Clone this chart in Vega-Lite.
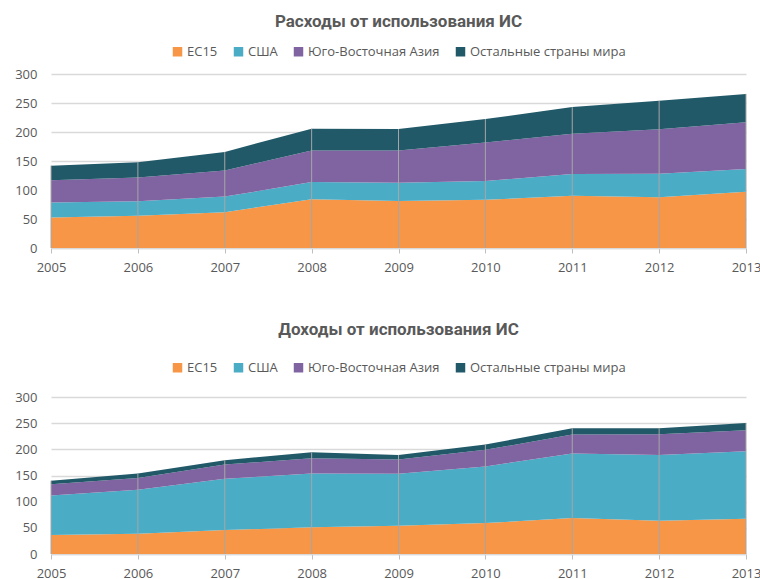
{
  "$schema": "https://vega.github.io/schema/vega-lite/v6.json",
  "padding": {"left": 14, "top": 13, "right": 16, "bottom": 0},
  "background": "white",
  "spacing": 47,
  "datasets": {
    "exp": [
      {"year": 2005, "series": "ЕС15", "k": 1, "value": 52.6},
      {"year": 2006, "series": "ЕС15", "k": 1, "value": 55.4},
      {"year": 2007, "series": "ЕС15", "k": 1, "value": 61.7},
      {"year": 2008, "series": "ЕС15", "k": 1, "value": 84},
      {"year": 2009, "series": "ЕС15", "k": 1, "value": 81},
      {"year": 2010, "series": "ЕС15", "k": 1, "value": 83},
      {"year": 2011, "series": "ЕС15", "k": 1, "value": 90.3},
      {"year": 2012, "series": "ЕС15", "k": 1, "value": 87.4},
      {"year": 2013, "series": "ЕС15", "k": 1, "value": 97},
      {"year": 2005, "series": "США", "k": 2, "value": 25.7},
      {"year": 2006, "series": "США", "k": 2, "value": 25.2},
      {"year": 2007, "series": "США", "k": 2, "value": 26.9},
      {"year": 2008, "series": "США", "k": 2, "value": 29.7},
      {"year": 2009, "series": "США", "k": 2, "value": 31.6},
      {"year": 2010, "series": "США", "k": 2, "value": 32.5},
      {"year": 2011, "series": "США", "k": 2, "value": 37.1},
      {"year": 2012, "series": "США", "k": 2, "value": 40.6},
      {"year": 2013, "series": "США", "k": 2, "value": 39},
      {"year": 2005, "series": "Юго-Восточная Азия", "k": 3, "value": 38.7},
      {"year": 2006, "series": "Юго-Восточная Азия", "k": 3, "value": 41.1},
      {"year": 2007, "series": "Юго-Восточная Азия", "k": 3, "value": 45.1},
      {"year": 2008, "series": "Юго-Восточная Азия", "k": 3, "value": 54.3},
      {"year": 2009, "series": "Юго-Восточная Азия", "k": 3, "value": 55.4},
      {"year": 2010, "series": "Юго-Восточная Азия", "k": 3, "value": 66.3},
      {"year": 2011, "series": "Юго-Восточная Азия", "k": 3, "value": 69.6},
      {"year": 2012, "series": "Юго-Восточная Азия", "k": 3, "value": 76.6},
      {"year": 2013, "series": "Юго-Восточная Азия", "k": 3, "value": 80.6},
      {"year": 2005, "series": "Остальные страны мира", "k": 4, "value": 25},
      {"year": 2006, "series": "Остальные страны мира", "k": 4, "value": 26.3},
      {"year": 2007, "series": "Остальные страны мира", "k": 4, "value": 32},
      {"year": 2008, "series": "Остальные страны мира", "k": 4, "value": 37.7},
      {"year": 2009, "series": "Остальные страны мира", "k": 4, "value": 37},
      {"year": 2010, "series": "Остальные страны мира", "k": 4, "value": 40.6},
      {"year": 2011, "series": "Остальные страны мира", "k": 4, "value": 45.9},
      {"year": 2012, "series": "Остальные страны мира", "k": 4, "value": 49.1},
      {"year": 2013, "series": "Остальные страны мира", "k": 4, "value": 49.1}
    ],
    "inc": [
      {"year": 2005, "series": "ЕС15", "k": 1, "value": 36.2},
      {"year": 2006, "series": "ЕС15", "k": 1, "value": 38.8},
      {"year": 2007, "series": "ЕС15", "k": 1, "value": 45.8},
      {"year": 2008, "series": "ЕС15", "k": 1, "value": 50.9},
      {"year": 2009, "series": "ЕС15", "k": 1, "value": 54},
      {"year": 2010, "series": "ЕС15", "k": 1, "value": 59.1},
      {"year": 2011, "series": "ЕС15", "k": 1, "value": 68.7},
      {"year": 2012, "series": "ЕС15", "k": 1, "value": 63.6},
      {"year": 2013, "series": "ЕС15", "k": 1, "value": 67.4},
      {"year": 2005, "series": "США", "k": 2, "value": 75.7},
      {"year": 2006, "series": "США", "k": 2, "value": 83.9},
      {"year": 2007, "series": "США", "k": 2, "value": 97.9},
      {"year": 2008, "series": "США", "k": 2, "value": 102.9},
      {"year": 2009, "series": "США", "k": 2, "value": 99.2},
      {"year": 2010, "series": "США", "k": 2, "value": 108.1},
      {"year": 2011, "series": "США", "k": 2, "value": 123.3},
      {"year": 2012, "series": "США", "k": 2, "value": 125.8},
      {"year": 2013, "series": "США", "k": 2, "value": 129},
      {"year": 2005, "series": "Юго-Восточная Азия", "k": 3, "value": 21.6},
      {"year": 2006, "series": "Юго-Восточная Азия", "k": 3, "value": 22.3},
      {"year": 2007, "series": "Юго-Восточная Азия", "k": 3, "value": 27.3},
      {"year": 2008, "series": "Юго-Восточная Азия", "k": 3, "value": 29.2},
      {"year": 2009, "series": "Юго-Восточная Азия", "k": 3, "value": 27.3},
      {"year": 2010, "series": "Юго-Восточная Азия", "k": 3, "value": 31.8},
      {"year": 2011, "series": "Юго-Восточная Азия", "k": 3, "value": 36.2},
      {"year": 2012, "series": "Юго-Восточная Азия", "k": 3, "value": 39.4},
      {"year": 2013, "series": "Юго-Восточная Азия", "k": 3, "value": 40.1},
      {"year": 2005, "series": "Остальные страны мира", "k": 4, "value": 6.4},
      {"year": 2006, "series": "Остальные страны мира", "k": 4, "value": 8.8},
      {"year": 2007, "series": "Остальные страны мира", "k": 4, "value": 8.3},
      {"year": 2008, "series": "Остальные страны мира", "k": 4, "value": 11.5},
      {"year": 2009, "series": "Остальные страны мира", "k": 4, "value": 8.9},
      {"year": 2010, "series": "Остальные страны мира", "k": 4, "value": 10.2},
      {"year": 2011, "series": "Остальные страны мира", "k": 4, "value": 12.1},
      {"year": 2012, "series": "Остальные страны мира", "k": 4, "value": 11.5},
      {"year": 2013, "series": "Остальные страны мира", "k": 4, "value": 14}
    ]
  },
  "vconcat": [
    {
      "width": 695,
      "height": 174,
      "data": {"name": "exp"},
      "title": {"text": "Расходы от использования ИС", "offset": 14},
      "layer": [
        {
          "mark": {"type": "area"},
          "encoding": {
            "x": {"field": "year", "type": "quantitative", "scale": {"domain": [2005, 2013], "nice": false, "zero": false},
                  "axis": {"values": [2005, 2006, 2007, 2008, 2009, 2010, 2011, 2012, 2013], "format": "d", "title": null}},
            "y": {"field": "value", "type": "quantitative", "aggregate": "sum", "stack": "zero", "scale": {"domain": [0, 300]},
                  "axis": {"values": [0, 50, 100, 150, 200, 250, 300], "title": null}},
            "color": {"field": "series", "type": "nominal",
                      "scale": {"domain": ["ЕС15", "США", "Юго-Восточная Азия", "Остальные страны мира"], "range": ["#F79646", "#4BACC6", "#8064A2", "#215968"]},
                      "legend": {"title": null, "orient": "top", "direction": "horizontal", "offset": 15}},
            "order": {"field": "k", "type": "quantitative", "sort": "ascending"}
          }
        },
        {
          "mark": {"type": "rule", "color": "#A6A6A6", "strokeWidth": 1},
          "encoding": {
            "x": {"field": "year", "type": "quantitative",
                  "axis": {"values": [2005, 2006, 2007, 2008, 2009, 2010, 2011, 2012, 2013], "format": "d", "title": null}},
            "y": {"field": "value", "type": "quantitative", "aggregate": "sum",
                  "axis": {"values": [0, 50, 100, 150, 200, 250, 300], "title": null}},
            "y2": {"datum": 0}
          }
        }
      ]
    },
    {
      "width": 695,
      "height": 157,
      "data": {"name": "inc"},
      "title": {"text": "Доходы от использования ИС", "offset": 22},
      "layer": [
        {
          "mark": {"type": "area"},
          "encoding": {
            "x": {"field": "year", "type": "quantitative", "scale": {"domain": [2005, 2013], "nice": false, "zero": false},
                  "axis": {"values": [2005, 2006, 2007, 2008, 2009, 2010, 2011, 2012, 2013], "format": "d", "title": null}},
            "y": {"field": "value", "type": "quantitative", "aggregate": "sum", "stack": "zero", "scale": {"domain": [0, 300]},
                  "axis": {"values": [0, 50, 100, 150, 200, 250, 300], "title": null}},
            "color": {"field": "series", "type": "nominal",
                      "scale": {"domain": ["ЕС15", "США", "Юго-Восточная Азия", "Остальные страны мира"], "range": ["#F79646", "#4BACC6", "#8064A2", "#215968"]},
                      "legend": {"title": null, "orient": "top", "direction": "horizontal", "offset": 22}},
            "order": {"field": "k", "type": "quantitative", "sort": "ascending"}
          }
        },
        {
          "mark": {"type": "rule", "color": "#A6A6A6", "strokeWidth": 1},
          "encoding": {
            "x": {"field": "year", "type": "quantitative",
                  "axis": {"values": [2005, 2006, 2007, 2008, 2009, 2010, 2011, 2012, 2013], "format": "d", "title": null}},
            "y": {"field": "value", "type": "quantitative", "aggregate": "sum",
                  "axis": {"values": [0, 50, 100, 150, 200, 250, 300], "title": null}},
            "y2": {"datum": 0}
          }
        }
      ]
    }
  ],
  "resolve": {"scale": {"color": "independent"}, "legend": {"color": "independent"}},
  "config": {
    "font": "Open Sans",
    "view": {"stroke": null},
    "title": {"fontSize": 17, "fontWeight": "bold", "color": "#595959", "font": "Roboto", "anchor": "middle"},
    "legend": {"labelFontSize": 13, "labelColor": "#595959", "labelFont": "Open Sans", "symbolType": "square", "symbolSize": 90, "symbolStrokeWidth": 0, "columnPadding": 14, "labelOffset": 3, "layout": {"top": {"anchor": "middle"}}},
    "axisY": {"domain": false, "ticks": false, "grid": true, "gridColor": "#D9D9D9", "gridWidth": 1.5, "labelFontSize": 13, "labelColor": "#595959", "labelFont": "Open Sans", "labelPadding": 14, "labelOverlap": false},
    "axisX": {"domain": true, "domainColor": "#D9D9D9", "domainWidth": 1.5, "ticks": true, "tickColor": "#BFBFBF", "tickSize": 5, "grid": false, "labelFontSize": 13, "labelColor": "#595959", "labelFont": "Open Sans", "labelPadding": 8, "labelFlush": false, "labelOverlap": false}
  }
}
